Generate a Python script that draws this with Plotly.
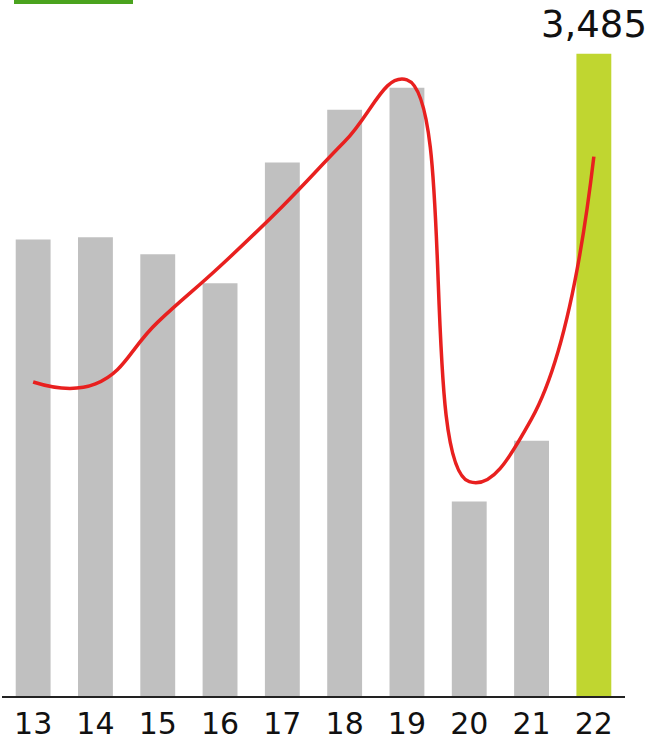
import plotly.graph_objects as go

# Yearly figures (two-digit years)
years = ["13", "14", "15", "16", "17", "18", "19", "20", "21", "22"]
bar_values = [2478, 2489, 2397, 2240, 2895, 3182, 3301, 1055, 1385, 3485]
trend_values = [1704, 1694, 2029, 2332, 2657, 3009, 3344, 1163, 1504, 2927]

GRAY = "#C0C0C0"
LIME = "#C0D630"
RED = "#E8201F"
GREEN = "#4AA31E"

W, H = 654, 741
L, R, T, B = 2, 29, 0, 43

bar_colors = [GRAY] * (len(years) - 1) + [LIME]

fig = go.Figure()
fig.add_trace(go.Bar(
    x=years, y=bar_values, marker=dict(color=bar_colors, line=dict(width=0)),
    width=0.56, hoverinfo="x+y",
))
fig.add_trace(go.Scatter(
    x=years, y=trend_values, mode="lines",
    line=dict(color=RED, width=3.5, shape="spline", smoothing=1.3),
    hoverinfo="x+y",
))

# value label over the latest bar (category index of the last year)
fig.add_annotation(
    x=len(years) - 1, y=bar_values[-1], text=f"{bar_values[-1]:,}", showarrow=False,
    xanchor="center", yanchor="bottom", yshift=6,
    font=dict(family="DejaVu Sans", size=37, color="#111"),
)

# small green bar in the top-left corner
pw = W - L - R
fig.add_shape(type="rect", xref="paper", yref="paper",
              x0=(14 - L) / pw, x1=(133 - L) / pw, y0=1 - 4 / (H - T - B), y1=1,
              fillcolor=GREEN, line=dict(width=0), layer="above")

fig.update_layout(
    width=W, height=H, margin=dict(l=L, r=R, t=T, b=B),
    paper_bgcolor="white", plot_bgcolor="white", showlegend=False,
    font=dict(family="DejaVu Sans", color="#111"),
    xaxis=dict(type="category", range=[-0.5, 9.5], showline=True, linecolor="#222",
               linewidth=1.5, ticks="", showgrid=False, zeroline=False,
               tickfont=dict(size=30, color="#111")),
    yaxis=dict(range=[0, 3485 * 698 / 644], visible=False, showgrid=False, zeroline=False),
)

fig.write_html("out.html")
